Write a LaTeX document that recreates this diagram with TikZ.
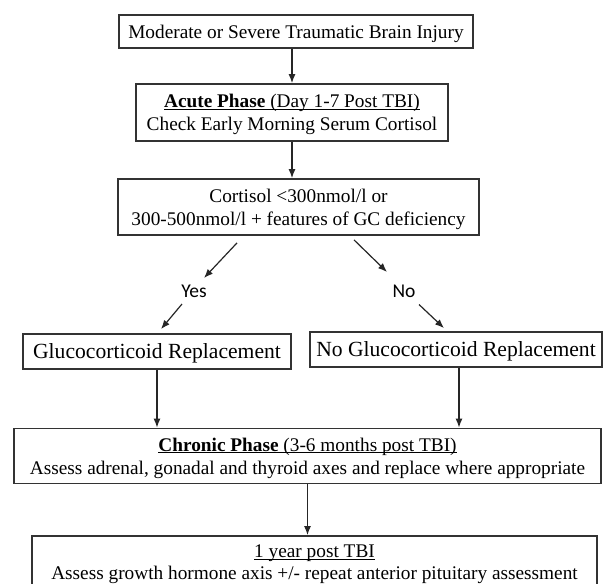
\documentclass[tikz,border=0pt]{standalone}
\usepackage{fontspec}
\setmainfont{Liberation Serif}
\newfontfamily\answerfont{Carlito}
\usetikzlibrary{arrows.meta}
\newcommand\phasehead[1]{\underline{\raisebox{0pt}[\height][0pt]{#1}}}

\begin{document}
\begin{tikzpicture}[x=1pt,y=-1pt]
\tikzset{font=\fontsize{19.3}{23}\selectfont}
\tikzset{box/.style={draw=black!80, line width=1.8pt, align=center, inner sep=0pt, text depth=0pt, text=black}}
\tikzset{bigbox/.style={box, font=\fontsize{21.6}{24}\selectfont}}
\tikzset{answer/.style={font=\answerfont\fontsize{19.5}{22}\selectfont, text=black}}
\tikzset{link/.style={-{Latex[length=9pt,width=7pt]}, line width=1.2pt, draw=black!85}}
\useasboundingbox (0,0) rectangle (603,584);

\node[box, minimum width=354, minimum height=33] (injury) at (296,31.5) {Moderate or Severe Traumatic Brain Injury};
\node[box, minimum width=312, minimum height=57] (acute) at (292,112.5) {\phasehead{\textbf{Acute Phase} (Day 1-7 Post TBI)}\\Check Early Morning Serum Cortisol};
\node[box, minimum width=361, minimum height=56] (cortisol) at (298.5,207) {Cortisol <300nmol/l or\\300-500nmol/l + features of GC deficiency};
\node[answer] (yes) at (194,291.5) {Yes};
\node[answer] (no) at (404,291.5) {No};
\node[bigbox, minimum width=268, minimum height=35] (gcrep) at (157,351.5) {Glucocorticoid Replacement};
\node[bigbox, minimum width=292, minimum height=35] (nogcrep) at (456,349.5) {No Glucocorticoid Replacement};
\node[box, minimum width=587, minimum height=55] (chronic) at (307.5,456) {\phasehead{\textbf{Chronic Phase} (3-6 months post TBI)}\\Assess adrenal, gonadal and thyroid axes and replace where appropriate};
\node[box, minimum width=565, minimum height=52, font=\fontsize{19.3}{21.5}\selectfont] (year) at (314.5,562) {\phasehead{1 year post TBI}\\Assess growth hormone axis +/- repeat anterior pituitary assessment};

% main line
\draw[link] (injury.south -| acute.north) -- (acute.north);
\draw[link] (acute.south) -- (acute.south |- cortisol.north);
% yes / no split
\draw[link] ([xshift=-61.5pt,yshift=-7pt]cortisol.south) -- ([xshift=10pt,yshift=13.5pt]yes.center);
\draw[link] ([xshift=55.5pt,yshift=-4pt]cortisol.south) -- ([xshift=-17pt,yshift=19.5pt]no.center);
\draw[link] ([xshift=-12pt,yshift=-12.5pt]yes.center) -- ([xshift=4pt,yshift=4pt]gcrep.north);
\draw[link] ([xshift=15pt,yshift=-13pt]no.center) -- ([xshift=-12pt,yshift=3pt]nogcrep.north);
% into the chronic phase
\draw[link] (gcrep.south) -- (gcrep.south |- chronic.north);
\draw[link] ([xshift=3pt]nogcrep.south) -- ([xshift=3pt]nogcrep.south |- chronic.north);
\draw[link] (chronic.south) -- (chronic.south |- year.north);
\end{tikzpicture}
\end{document}
